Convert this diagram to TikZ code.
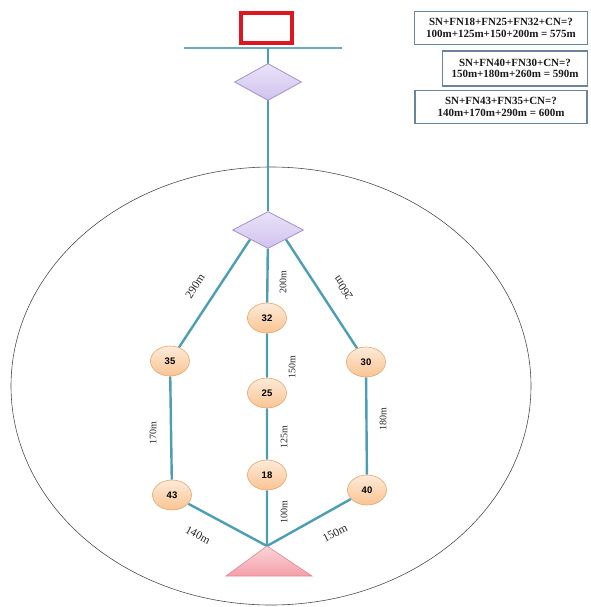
\documentclass[tikz,border=0pt]{standalone}
\usepackage{fontspec}
\setmainfont{Liberation Serif}
\newfontfamily\fnfont{Liberation Sans}
\usepackage{xcolor}
\usepackage{tikz}
\usetikzlibrary{shapes.geometric,backgrounds,positioning}

\definecolor{pipecol}{RGB}{75,158,180}
\definecolor{valvefill}{RGB}{208,194,238}
\definecolor{valveedge}{RGB}{165,145,205}
\definecolor{fnfill}{RGB}{250,196,146}
\definecolor{fnedge}{RGB}{226,168,112}
\definecolor{snfill}{RGB}{244,160,170}
\definecolor{snedge}{RGB}{228,132,142}
\definecolor{cnred}{RGB}{222,22,32}
\definecolor{boxedge}{RGB}{105,132,156}

\begin{document}
\begin{tikzpicture}[x=1pt, y=-1pt,
  pipe/.style={draw=pipecol, line width=2.4pt},
  valve/.style={diamond, draw=valveedge, line width=0.8pt, top color=valvefill!45,
    bottom color=valvefill, minimum width=#1, minimum height=37, inner sep=0pt},
  fn/.style={ellipse, draw=fnedge, line width=0.6pt, top color=fnfill!35,
    bottom color=fnfill, minimum width=39, minimum height=30, inner sep=0pt,
    font=\fnfont\bfseries\fontsize{9.5}{10}\selectfont},
  len/.style={font=\fontsize{10}{10}\selectfont, text=black!85, inner sep=0pt},
  slen/.style={font=\fontsize{11.5}{12}\selectfont, text=black!85, inner sep=0pt},
  sum/.style={draw=boxedge, line width=1.5pt, fill=white, align=center,
    font=\bfseries\fontsize{11}{11.5}\selectfont, text=black!90, inner sep=0pt}]
  \useasboundingbox (0,0) rectangle (590,607);

  % central node and main valve
  \node[draw=cnred, line width=4pt, fill=white, minimum width=51, minimum height=30,
        inner sep=0pt] (cn) at (266.5,28) {};
  \coordinate (busL) at (184,48);
  \coordinate (busR) at (342,48);
  \node[valve=67] (d1) at (268,82) {};
  \node[valve=71] (d2) at (268,230) {};

  % field nodes
  \node[fn] (n32) at (267,318) {32};
  \node[fn] (n25) at (267,393) {25};
  \node[fn] (n18) at (267,475) {18};
  \node[fn] (n35) at (170,361) {35};
  \node[fn] (n43) at (172,495) {43};
  \node[fn] (n30) at (366,362) {30};
  \node[fn] (n40) at (367,490) {40};

  % sensor node
  \coordinate (sink) at (267,546);
  \coordinate (sinkR) at (312,576);
  \coordinate (sinkL) at (226,576);
  \shade[top color=snfill!45, bottom color=snfill, draw=snedge, line width=0.6pt]
    (sink) -- (sinkR) -- (sinkL) -- cycle;

  \begin{scope}[on background layer]
    \draw[black!70, line width=0.6pt] (271,386) ellipse [x radius=260pt, y radius=219pt];
    \draw[pipe, draw=pipecol!85, line width=2pt] (busL) -- (busR);
    \draw[pipe] (d1 |- busL) -- (d2);
    \draw[pipe] (d2.south west) -- (n35) -- (n43) -- (sink);
    \draw[pipe] (d2) -- (n32) -- (n25) -- (n18) -- (sink);
    \draw[pipe] (d2.south east) -- (n30) -- (n40) -- (sink);
  \end{scope}

  % lengths
  \node[slen, rotate=57] (l290) at (195,286) {290m};
  \node[len, rotate=90] (l200) at (283,282) {200m};
  \node[slen, rotate=123] (l260) at (343,288) {260m};
  \node[len, rotate=90] (l150a) at (292,367) {150m};
  \node[len, rotate=90] (l170) at (153,433) {170m};
  \node[len, rotate=90] (l125) at (284,437) {125m};
  \node[len, rotate=90] (l180) at (383,419) {180m};
  \node[len, rotate=90] (l100) at (284,512) {100m};
  \node[slen, rotate=-28] (l140) at (198,535) {140m};
  \node[slen, rotate=27] (l150b) at (335,533) {150m};

  % path sums
  \node[sum, minimum width=173, minimum height=33] (q1) at (501,28)
    {SN+FN18+FN25+FN32+CN=?\\100m+125m+150+200m = 575m};
  \node[sum, minimum width=145, minimum height=35] (q2) at (515,68.5)
    {SN+FN40+FN30+CN=?\\150m+180m+260m = 590m};
  \node[sum, minimum width=172, minimum height=33] (q3) at (501,107)
    {SN+FN43+FN35+CN=?\\140m+170m+290m = 600m};
\end{tikzpicture}
\end{document}
